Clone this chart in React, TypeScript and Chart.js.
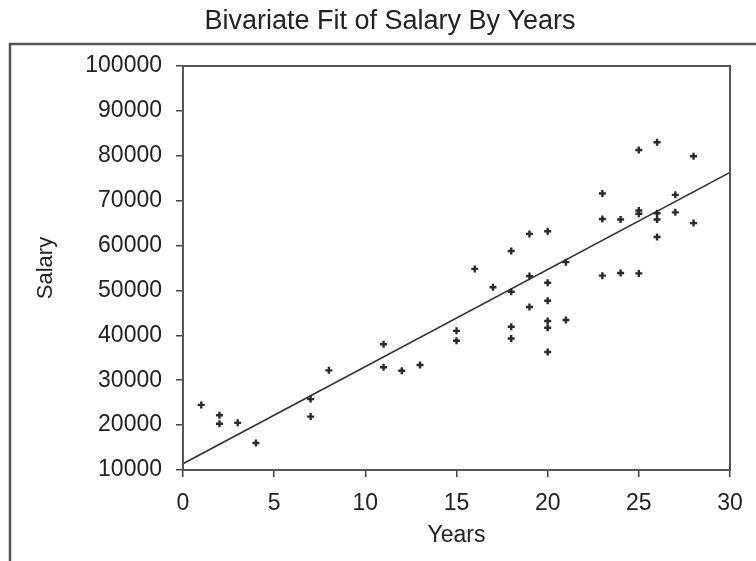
import React, { useEffect, useRef } from "react";
import { Chart, registerables } from "chart.js";

Chart.register(...registerables);

// Observations: years of experience and salary
const years: number[] = [
  1, 2, 2, 3, 4, 7, 7, 8, 11, 11, 12, 13, 15, 15, 16, 17, 18, 18, 18, 18,
  19, 19, 19, 20, 20, 20, 20, 20, 20, 21, 21, 23, 23, 23, 24, 24, 25, 25, 25, 25,
  26, 26, 26, 26, 27, 27, 28, 28,
];
const salary: number[] = [
  24500, 22200, 20300, 20500, 16000, 25800, 21900, 32200, 38000, 32900, 32100, 33400,
  41000, 38800, 54800, 50700, 58800, 49700, 41900, 39300, 62600, 53200, 46300,
  63200, 51700, 47700, 43200, 41700, 36300, 56300, 43400, 71600, 65900, 53300,
  65800, 53900, 81300, 67800, 67100, 53800, 83000, 67200, 65800, 61900, 71300,
  67400, 79900, 65000,
];
// Fitted line (at its two ends)
const fitYears: number[] = [0, 30];
const fitSalary: number[] = [11400, 76300];

const xTicks: number[] = [0, 5, 10, 15, 20, 25, 30];
const yTicks: number[] = [10000, 20000, 30000, 40000, 50000, 60000, 70000, 80000, 90000, 100000];

const FONT = "'Liberation Sans', Arial, Helvetica, sans-serif";
const INK = "#222";
const FRAME = "#555";

export default function App() {
  const ref = useRef<HTMLCanvasElement | null>(null);

  useEffect(() => {
    if (!ref.current) return;
    const framePlugin = {
      id: "frames",
      beforeDraw(chart: any) {
        const { ctx, chartArea } = chart;
        ctx.save();
        ctx.fillStyle = "#fff";
        ctx.fillRect(0, 0, chart.width, chart.height);
        // outer panel frame (left and top edges)
        ctx.strokeStyle = FRAME;
        ctx.lineWidth = 2.5;
        ctx.beginPath();
        const fx = chartArea.left - 173;
        const fy = chartArea.top - 22;
        ctx.moveTo(fx, chart.height);
        ctx.lineTo(fx, fy);
        ctx.lineTo(chart.width, fy);
        ctx.stroke();
        ctx.restore();
      },
      afterDatasetsDraw(chart: any) {
        const { ctx, chartArea } = chart;
        ctx.save();
        ctx.strokeStyle = FRAME;
        ctx.lineWidth = 2;
        ctx.strokeRect(
          chartArea.left,
          chartArea.top,
          chartArea.right - chartArea.left,
          chartArea.bottom - chartArea.top
        );
        ctx.restore();
      },
    };

    const chart = new Chart(ref.current, {
      type: "scatter",
      data: {
        datasets: [
          {
            label: "Salary",
            data: years.map((x, i) => ({ x, y: salary[i] })),
            pointStyle: "cross",
            pointRadius: 3.5,
            pointBorderWidth: 2.4,
            borderColor: "#2a2a2a",
            backgroundColor: "#2a2a2a",
          },
          {
            label: "Fit",
            data: fitYears.map((x, i) => ({ x, y: fitSalary[i] })),
            showLine: true,
            pointRadius: 0,
            borderColor: "#333",
            borderWidth: 1.6,
          },
        ],
      },
      options: {
        responsive: false,
        animation: false,
        layout: { padding: { left: 24, right: 0, top: 0, bottom: 0 } },
        plugins: {
          legend: { display: false },
          tooltip: { enabled: false },
          title: {
            display: true,
            text: "Bivariate Fit of Salary By Years",
            color: INK,
            font: { family: FONT, size: 27, weight: "normal" },
            padding: { top: 5, bottom: 28.6 },
          },
        },
        scales: {
          x: {
            type: "linear",
            min: 0,
            max: 30,
            afterBuildTicks(scale: any) {
              scale.ticks = xTicks.map((v) => ({ value: v }));
            },
            afterFit(scale: any) {
              scale.height = 91;
            },
            grid: {
              drawOnChartArea: false,
              drawTicks: true,
              tickLength: 7,
              color: "#444",
              lineWidth: 1.5,
            },
            border: { display: false },
            ticks: {
              color: INK,
              padding: 13,
              maxRotation: 0,
              font: { family: FONT, size: 23 },
              callback: (v: any) => String(v),
            },
            title: {
              display: true,
              text: "Years",
              color: INK,
              font: { family: FONT, size: 23 },
              padding: { top: 0, bottom: 12 },
            },
          },
          y: {
            type: "linear",
            min: 10000,
            max: 100000,
            afterBuildTicks(scale: any) {
              scale.ticks = yTicks.map((v) => ({ value: v }));
            },
            afterFit(scale: any) {
              scale.width = 159;
            },
            grid: {
              drawOnChartArea: false,
              drawTicks: true,
              tickLength: 7,
              color: "#444",
              lineWidth: 1.5,
            },
            border: { display: false },
            ticks: {
              color: INK,
              padding: 14,
              font: { family: FONT, size: 23 },
              callback: (v: any) => String(v),
            },
            title: {
              display: true,
              text: "Salary",
              color: INK,
              font: { family: FONT, size: 22 },
              padding: { top: 9, bottom: 0 },
            },
          },
          yRight: {
            type: "linear",
            position: "right",
            display: true,
            afterFit(scale: any) {
              scale.width = 26;
            },
            grid: { display: false },
            border: { display: false },
            ticks: { display: false },
          },
        },
      },
      plugins: [framePlugin],
    } as any);

    return () => chart.destroy();
  }, []);

  return (
    <div style={{ position: "absolute", left: 0, top: 0, width: 756, height: 561, background: "#fff" }}>
      <canvas ref={ref} width={756} height={561} />
    </div>
  );
}
